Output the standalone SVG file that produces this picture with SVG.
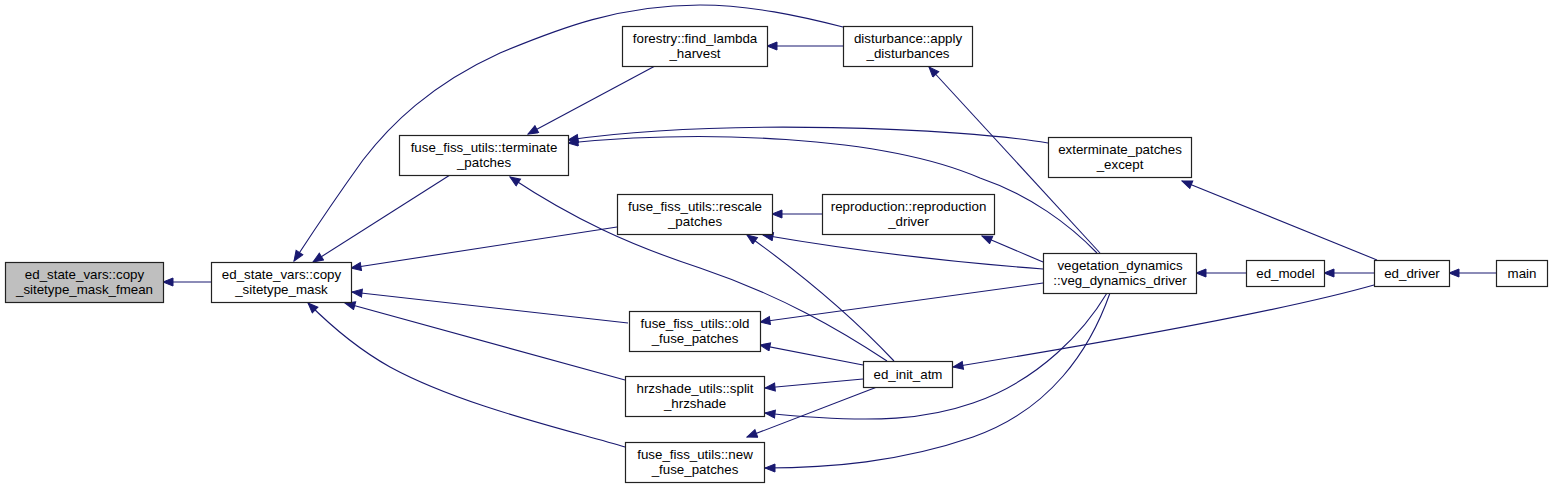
<svg xmlns="http://www.w3.org/2000/svg" width="1552" height="487" viewBox="0 0 1552 487">
<style>
.n rect{fill:#ffffff;stroke:#222222;stroke-width:1.2}
.n.g rect{fill:#bfbfbf}
.n text{font-family:"Liberation Sans",Arial,sans-serif;font-size:13.33px;fill:#000000;text-anchor:middle}
.e path{fill:none;stroke:#191970;stroke-width:1.1;marker-end:url(#ah)}
</style>
<defs>
<marker id="ah" markerUnits="userSpaceOnUse" markerWidth="12" markerHeight="10" refX="11" refY="4.5" orient="auto">
<path d="M1,0.5 L11,4.5 L1,8.5 Z" fill="#191970" stroke="#191970" stroke-width="1"/>
</marker>
</defs>
<rect width="1552" height="487" fill="#ffffff"/>
<g id="connectors" class="e">
<path d="M211,282 L163,282"/>
<path d="M450,175 L313,262"/>
<path d="M843,27 C800,16 750,5 700,5 C620,5 560,28 500,53 C430,85 390,125 363,160 C345,185 322,218 294,261"/>
<path d="M617,227 L351,268"/>
<path d="M628,323 L352,292"/>
<path d="M625,380 L345,303"/>
<path d="M625,447 C560,428 460,405 390,367 C365,353 335,330 308,303"/>
<path d="M655,66 L528,134"/>
<path d="M1048,143 C960,128 720,118 568,140"/>
<path d="M1097,253 C1070,225 1030,195 980,178 C880,135 700,130 568,143"/>
<path d="M887,361 C840,330 780,295 700,268 C630,245 575,220 510,177"/>
<path d="M843,46 L767,46"/>
<path d="M1100,253 L929,67"/>
<path d="M1377,260 L1182,181"/>
<path d="M822,214 L772,214"/>
<path d="M1043,262 L982,236"/>
<path d="M1043,269 C950,262 850,250 763,235"/>
<path d="M894,361 C860,325 810,280 747,235"/>
<path d="M1043,283 L760,322"/>
<path d="M863,365 L760,345"/>
<path d="M863,379 L765,388"/>
<path d="M1107,293 C1085,330 1040,380 973,403 C930,418 880,425 765,413"/>
<path d="M877,387 L747,437"/>
<path d="M1110,293 C1090,350 1050,410 973,437 C900,462 830,468 765,468"/>
<path d="M1246,273 L1196,273"/>
<path d="M1374,273 L1324,273"/>
<path d="M1496,273 L1449,273"/>
<path d="M1374,285 C1300,306 1150,335 953,367"/>
</g>
<g id="n_fmean" class="n g"><rect x="5.5" y="262.5" width="158" height="40"/><text x="84.5" y="278.5">ed_state_vars::copy</text><text x="84.5" y="293.5">_sitetype_mask_fmean</text></g>
<g id="n_copy" class="n"><rect x="211.5" y="262.5" width="140" height="40"/><text x="281.5" y="278.5">ed_state_vars::copy</text><text x="281.5" y="293.5">_sitetype_mask</text></g>
<g id="n_find_lambda" class="n"><rect x="622.5" y="26.5" width="145" height="40"/><text x="695" y="42.5">forestry::find_lambda</text><text x="695" y="57.5">_harvest</text></g>
<g id="n_terminate" class="n"><rect x="399.5" y="135.5" width="169" height="40"/><text x="484" y="151.5">fuse_fiss_utils::terminate</text><text x="484" y="166.5">_patches</text></g>
<g id="n_disturbance" class="n"><rect x="843.5" y="26.5" width="129" height="40"/><text x="908" y="42.5">disturbance::apply</text><text x="908" y="57.5">_disturbances</text></g>
<g id="n_exterminate" class="n"><rect x="1048.5" y="137.5" width="143" height="40"/><text x="1120" y="153.5">exterminate_patches</text><text x="1120" y="168.5">_except</text></g>
<g id="n_rescale" class="n"><rect x="617.5" y="194.5" width="155" height="40"/><text x="695" y="210.5">fuse_fiss_utils::rescale</text><text x="695" y="225.5">_patches</text></g>
<g id="n_reproduction" class="n"><rect x="822.5" y="194.5" width="172" height="40"/><text x="908.5" y="210.5">reproduction::reproduction</text><text x="908.5" y="225.5">_driver</text></g>
<g id="n_old_fuse" class="n"><rect x="629.5" y="311.5" width="131" height="40"/><text x="695" y="327.5">fuse_fiss_utils::old</text><text x="695" y="342.5">_fuse_patches</text></g>
<g id="n_split" class="n"><rect x="625.5" y="376.5" width="139" height="40"/><text x="695" y="392.5">hrzshade_utils::split</text><text x="695" y="407.5">_hrzshade</text></g>
<g id="n_new_fuse" class="n"><rect x="625.5" y="442.5" width="139" height="40"/><text x="695" y="458.5">fuse_fiss_utils::new</text><text x="695" y="473.5">_fuse_patches</text></g>
<g id="n_ed_init_atm" class="n"><rect x="863.5" y="361.5" width="89" height="26"/><text x="908" y="378.5">ed_init_atm</text></g>
<g id="n_veg" class="n"><rect x="1043.5" y="253.5" width="153" height="40"/><text x="1120" y="269.5">vegetation_dynamics</text><text x="1120" y="284.5">::veg_dynamics_driver</text></g>
<g id="n_ed_model" class="n"><rect x="1246.5" y="260.5" width="78" height="26"/><text x="1285.5" y="277.5">ed_model</text></g>
<g id="n_ed_driver" class="n"><rect x="1374.5" y="260.5" width="75" height="26"/><text x="1412" y="277.5">ed_driver</text></g>
<g id="n_main" class="n"><rect x="1496.5" y="260.5" width="51" height="26"/><text x="1522" y="277.5">main</text></g>
</svg>
